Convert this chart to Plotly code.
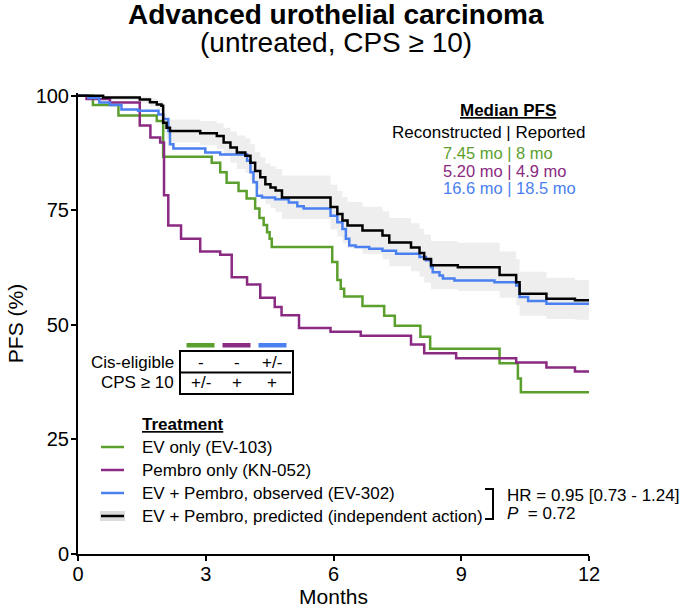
import plotly.graph_objects as go

# PFS curves (months, % progression-free)
ev_t = [0, 0.35, 0.95, 1.85, 2.0, 3.14, 3.34, 3.49, 3.77, 3.96, 4.16, 4.26, 4.36, 4.44, 4.50, 4.55,
        5.97, 6.09, 6.17, 6.25, 6.68, 7.19, 7.44, 8.04, 8.27, 9.9, 10.33, 10.4, 12]
ev_s = [100, 98.0, 95.7, 94.5, 86.7, 85.4, 83.3, 81.0, 79.2, 77.6, 75.4, 73.3, 71.8, 70.2, 68.8, 67.0,
        63.7, 59.8, 57.9, 56.2, 54.1, 52.0, 49.8, 47.4, 44.8, 41.6, 38.3, 35.3, 35.3]

pem_t = [0, 0.2, 0.75, 1.45, 1.70, 1.93, 2.02, 2.12, 2.42, 2.87, 3.34, 3.61, 3.97, 4.28, 4.62, 4.78,
         5.19, 5.93, 6.64, 7.82, 8.13, 8.88, 10.29, 11.0, 11.67, 12]
pem_s = [100, 99.3, 98.5, 93.5, 90.9, 89.8, 78.3, 71.7, 68.8, 66.0, 65.3, 60.4, 58.8, 55.9, 53.9, 52.1,
         49.3, 48.5, 47.6, 45.7, 43.8, 42.7, 41.8, 40.7, 39.8, 39.8]

obs_t = [0, 0.24, 0.5, 0.75, 1.02, 1.41, 1.89, 2.0, 2.12, 2.16, 2.24, 2.99, 3.34, 3.97, 4.05, 4.12,
         4.2, 4.32, 4.63, 4.95, 5.15, 5.3, 5.93, 6.09, 6.21, 6.29, 6.37, 6.52, 6.84, 7.15, 7.47, 8.02,
         8.17, 8.29, 8.33, 8.49, 8.57, 8.84, 9.78, 10.29, 10.37, 10.57, 11.0, 12]
obs_s = [100, 99.5, 98.5, 98.0, 97.0, 96.7, 95.9, 94.9, 92.3, 89.4, 88.5, 87.6, 87.2, 85.8, 83.3, 81.1,
         78.2, 77.8, 77.4, 76.7, 75.9, 75.4, 73.8, 72.4, 70.9, 68.8, 67.3, 67.0, 66.6, 66.2, 65.5, 64.8,
         64.1, 62.6, 61.5, 60.8, 60.1, 59.7, 59.3, 58.6, 56.1, 55.2, 54.6, 54.6]

pred_t = [0, 0.59, 1.45, 1.69, 1.85, 1.96, 2.0, 2.08, 2.16, 2.87, 3.26, 3.42, 3.58, 3.73, 3.93, 4.05,
          4.16, 4.28, 4.4, 4.52, 4.64, 4.79, 5.93, 6.09, 6.21, 6.33, 6.68, 7.15, 7.31, 7.82, 8.02, 8.13,
          8.29, 8.92, 9.9, 10.29, 10.37, 11.0, 11.67, 12]
pred_s = [100, 99.6, 99.2, 98.6, 98.1, 97.8, 94.1, 93.0, 92.3, 91.8, 91.2, 89.8, 88.7, 87.6, 86.9, 85.4,
          83.6, 82.2, 80.7, 80.0, 79.3, 77.8, 75.7, 74.2, 72.8, 71.7, 70.6, 69.5, 68.0, 66.9, 65.7, 64.4,
          63.0, 62.6, 60.9, 59.3, 56.8, 55.7, 55.4, 55.4]
pred_hi = [100, 100, 99.8, 99.4, 99.0, 98.8, 96.0, 95.2, 94.8, 94.5, 94.0, 93.0, 92.2, 91.3, 90.7, 89.4,
           87.8, 86.6, 85.2, 84.6, 84.0, 82.6, 80.6, 79.2, 77.9, 76.8, 75.8, 74.8, 73.3, 72.2, 71.0, 69.7,
           68.3, 67.9, 66.0, 64.3, 61.6, 60.3, 59.8, 59.8]
pred_lo = [100, 99.0, 98.4, 97.6, 97.0, 96.6, 92.0, 90.6, 89.8, 89.2, 88.4, 86.8, 85.4, 84.0, 83.2, 81.5,
           79.5, 77.9, 76.3, 75.5, 74.7, 73.1, 70.8, 69.3, 67.8, 66.7, 65.5, 64.3, 62.8, 61.7, 60.5, 59.2,
           57.8, 57.4, 55.9, 54.3, 52.0, 51.3, 51.1, 51.1]

x_ticks = [0, 3, 6, 9, 12]
y_ticks = [0, 25, 50, 75, 100]

legend_labels = ['EV only (EV-103)', 'Pembro only (KN-052)',
                 'EV + Pembro, observed (EV-302)', 'EV + Pembro, predicted (independent action)']
median_recon = ['7.45 mo', '5.20 mo', '16.6 mo']
median_reported = ['8 mo', '4.9 mo', '18.5 mo']
cis_eligible = ['-', '-', '+/-']
cps_10 = ['+/-', '+', '+']
hr_text = 'HR = 0.95 [0.73 - 1.24]'
p_text = '0.72'

GREEN = '#5B9F2D'
PURPLE = '#8A2A82'
BLUE = '#4A80F0'
BLACK = '#000000'
BAND = 'rgba(210,210,210,0.38)'
FONT = 'Liberation Sans, Arial, sans-serif'

PAGE_W, PAGE_H = 680, 611
# plot area in page pixels
L, R, T, B = 78, 589, 93, 554


def px(x):
    return (x - L) / (R - L)


def py(y):
    return (B - y) / (B - T)


fig = go.Figure()

# CI band of the predicted curve
fig.add_trace(go.Scatter(x=pred_t, y=pred_lo, mode='lines', line=dict(width=0, shape='hv'),
                         hoverinfo='skip', showlegend=False))
fig.add_trace(go.Scatter(x=pred_t, y=pred_hi, mode='lines', line=dict(width=0, shape='hv'),
                         fill='tonexty', fillcolor=BAND, hoverinfo='skip', showlegend=False))

for t, s, c, name in [(ev_t, ev_s, GREEN, legend_labels[0]),
                      (pem_t, pem_s, PURPLE, legend_labels[1]),
                      (obs_t, obs_s, BLUE, legend_labels[2]),
                      (pred_t, pred_s, BLACK, legend_labels[3])]:
    fig.add_trace(go.Scatter(x=t, y=s, mode='lines', name=name,
                             line=dict(color=c, width=2.5, shape='hv'), showlegend=False))

shapes = []
annotations = []


def text(x, y, s, size=17, color='black', anchor='left'):
    annotations.append(dict(x=px(x), y=py(y), xref='paper', yref='paper', text=s, showarrow=False,
                            xanchor=anchor, yanchor='middle', font=dict(size=size, color=color, family=FONT)))


def line(x0, y0, x1, y1, color='black', width=2):
    shapes.append(dict(type='line', xref='paper', yref='paper', x0=px(x0), y0=py(y0), x1=px(x1), y1=py(y1),
                       line=dict(color=color, width=width)))


# titles
text(336, 15, '<b>Advanced urothelial carcinoma</b>', size=28, anchor='center')
text(336, 43, '(untreated, CPS ≥ 10)', size=28, anchor='center')

# median PFS block
text(508, 110, '<b><u>Median PFS</u></b>', anchor='center')
text(488, 132, 'Reconstructed | Reported', anchor='center')
for i, c in enumerate([GREEN, PURPLE, BLUE]):
    text(441, 153 + i * 17.5, f'{median_recon[i]} | {median_reported[i]}', size=16.5, color=c)

# eligibility table
for i, c in enumerate([GREEN, PURPLE, BLUE]):
    x0 = 186.5 + i * 36
    shapes.append(dict(type='rect', xref='paper', yref='paper', x0=px(x0), x1=px(x0 + 28),
                       y0=py(347.5), y1=py(343), fillcolor=c, line=dict(width=0)))
shapes.append(dict(type='rect', xref='paper', yref='paper', x0=px(180), x1=px(293), y0=py(394), y1=py(351),
                   line=dict(color='black', width=2)))
line(180, 372.5, 291, 372.5)
text(176, 362, 'Cis-eligible', anchor='right')
text(176, 383, 'CPS ≥ 10', anchor='right')
for i in range(3):
    text(201 + i * 35.5, 362, cis_eligible[i], anchor='center')
    text(201 + i * 35.5, 383, cps_10[i], anchor='center')

# treatment legend
text(140, 424, '<b><u>Treatment</u></b>')
for i, c in enumerate([GREEN, PURPLE, BLUE, BLACK]):
    y = 447 + i * 23
    if c == BLACK:
        shapes.append(dict(type='rect', xref='paper', yref='paper', x0=px(100), x1=px(125),
                           y0=py(y + 5), y1=py(y - 5), fillcolor='#DCDCDC', line=dict(width=0)))
    line(101, y, 124, y, color=c, width=2.5)
    text(140, y, legend_labels[i])

# HR bracket
line(493, 489, 493, 519)
line(485, 489, 494, 489)
line(485, 519, 494, 519)
text(505, 495, hr_text)
text(505, 513, '<i>P</i>  = ' + p_text)

fig.update_layout(
    width=PAGE_W, height=PAGE_H,
    margin=dict(l=L, r=PAGE_W - R, t=T, b=PAGE_H - B, autoexpand=False),
    paper_bgcolor='white', plot_bgcolor='white',
    font=dict(family=FONT, color='black'),
    shapes=shapes, annotations=annotations,
    xaxis=dict(range=[0, 12], tickvals=x_ticks, showline=True, linecolor='black', linewidth=2,
               ticks='outside', ticklen=5, tickwidth=2, tickcolor='black', showgrid=False, zeroline=False,
               automargin=False, tickfont=dict(size=20), ticklabelstandoff=-4,
               title=dict(text='Months', font=dict(size=21), standoff=0)),
    yaxis=dict(range=[0, 100.6], tickvals=y_ticks, showline=True, linecolor='black', linewidth=2,
               ticks='outside', ticklen=5, tickwidth=2, tickcolor='black', showgrid=False, zeroline=False,
               automargin=False, tickfont=dict(size=20), ticklabelstandoff=-2,
               title=dict(text='PFS (%)', font=dict(size=21), standoff=6)),
)

# the page body has a default 8px margin; drop it so the figure sits at the top-left corner
fig.write_html('out.html', config={'displayModeBar': False},
               post_script="document.body.style.margin = '0px';")
